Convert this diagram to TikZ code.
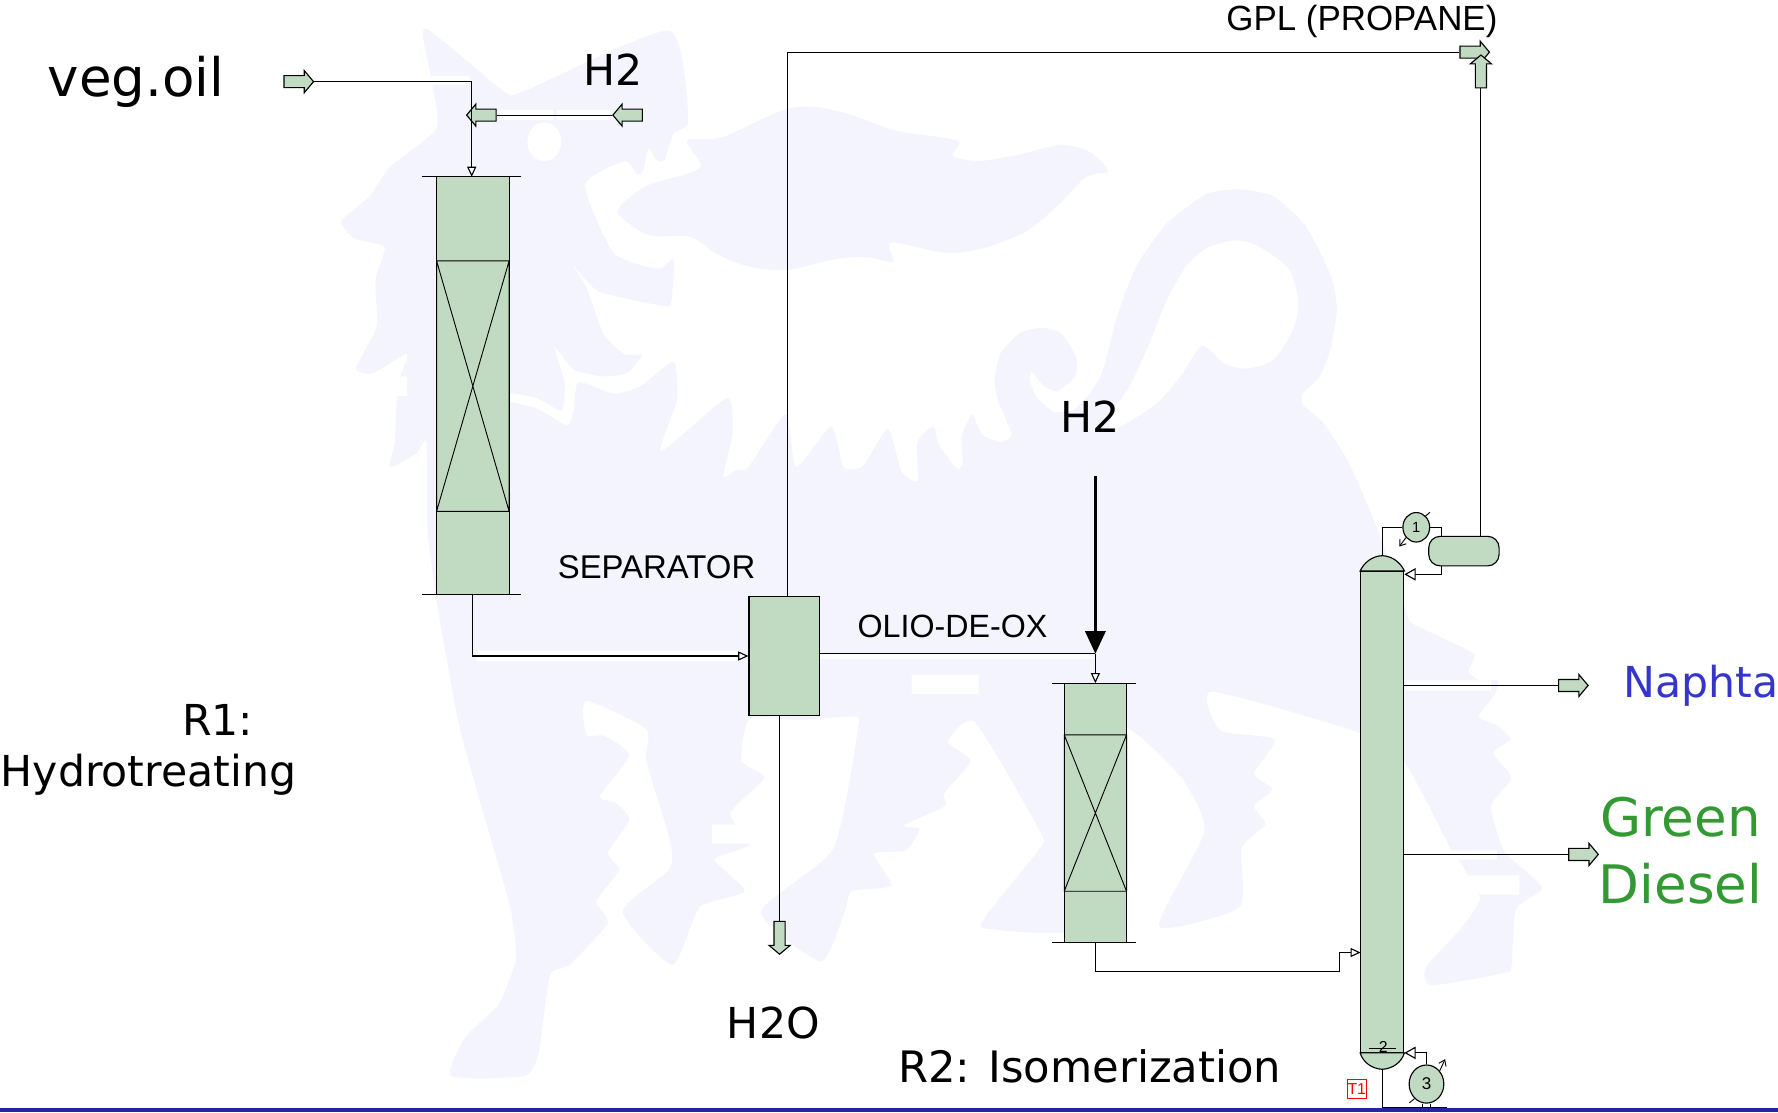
\documentclass[tikz,border=0pt]{standalone}
\usepackage{fontspec}
\usepackage{xcolor}
\usepackage{tikz}
\usetikzlibrary{positioning, arrows.meta, calc, shapes.arrows, shapes.geometric}
\setmainfont{DejaVu Sans}
\newfontfamily\helv{Liberation Sans}
\definecolor{unitgreen}{HTML}{C0DBC1}
\definecolor{lionblue}{HTML}{F4F4FE}
\definecolor{barblue}{HTML}{2424A4}
\definecolor{naphtablue}{HTML}{3535CC}
\definecolor{dieselgreen}{HTML}{339933}
\tikzset{
  unitbox/.style={draw, fill=unitgreen, line width=.5pt, inner sep=0pt},
  pipe/.style={draw, line width=.5pt},
  feed/.style={pipe, -{Triangle[fill=white, length=4.5pt, width=4pt]}},
  reflux/.style={pipe, -{Triangle[fill=white, length=5pt, width=5.5pt]}},
  tag/.style={unitbox, single arrow, inner xsep=0pt, inner ysep=2.4pt, minimum height=13pt,
    single arrow head extend=2.2pt, single arrow tip angle=100, anchor=tail},
  uptag/.style={tag, inner xsep=2.2pt, inner ysep=0pt, minimum height=14.5pt},
  bigtext/.style={font=\fontsize{18.8}{18.8}\selectfont, anchor=base},
  hugetext/.style={font=\fontsize{23.4}{30}\selectfont, anchor=base},
  smalltext/.style={font=\helv\fontsize{14.5}{14.5}\selectfont, anchor=base}
}

\begin{document}
\begin{tikzpicture}[x=0.5pt, y=-0.5pt]
  \useasboundingbox (0,0) rectangle (1568,981);

  % lion in the background
  \fill[lionblue] plot[smooth cycle, tension=.35] coordinates {
    (375,25) (445,81) (463,80) (590,27) (607,106) (594,118) (586,141) (579,141) (572,131) (567,151) (561,153) (551,142)
    (516,163) (541,223) (580,237) (594,229) (592,266) (586,270) (528,257) (504,232) (517,253) (532,294) (550,312) (566,313)
    (553,329) (532,332) (506,326) (489,306) (498,338) (495,362) (473,351) (440,345) (440,352) (473,360) (500,375) (506,362)
    (510,337) (541,347) (564,341) (594,319) (597,353) (583,398) (641,351) (646,382) (638,420) (650,414) (660,412) (693,365)
    (702,412) (733,376) (744,412) (761,411) (783,378) (795,416) (809,424) (809,390) (823,376) (829,394) (844,413) (849,409)
    (848,385) (857,365) (861,373) (867,384) (882,390) (886,389) (892,382) (880,353) (877,335) (882,312) (899,294) (919,289)
    (936,294) (949,315) (948,332) (932,345) (920,340) (910,328) (908,335) (914,350) (929,363) (946,362) (961,347) (973,326)
    (985,279) (1002,235) (1029,197) (1064,171) (1093,167) (1123,173) (1152,200) (1174,244) (1179,273) (1173,309) (1164,332)
    (1149,347) (1149,357) (1167,373) (1190,409) (1217,472) (1239,535) (1246,550) (1299,576) (1295,592) (1305,600) (1321,600)
    (1318,613) (1304,632) (1321,640) (1332,652) (1317,664) (1333,686) (1315,711) (1326,750) (1343,766) (1360,784) (1337,802)
    (1333,852) (1327,858) (1265,869) (1257,864) (1258,852) (1290,817) (1305,793) (1295,772) (1286,758) (1280,750) (1239,673)
    (1198,646) (1069,610) (1076,644) (1124,652) (1106,682) (1122,696) (1106,711) (1116,727) (1095,748) (1093,800) (1022,817)
    (1062,733) (1042,686) (994,643) (980,700) (960,817) (870,819) (870,807) (917,748) (917,733) (860,637) (836,654) (856,671)
    (833,699) (833,711) (797,728) (811,731) (799,750) (771,753) (786,781) (751,786) (745,804) (724,848) (671,804) (735,748)
    (757,640) (752,632) (704,635) (661,634) (654,671) (674,686) (644,717) (661,745) (630,758) (657,786) (617,800) (593,851)
    (549,804) (590,767) (591,742) (570,671) (570,643) (517,618) (517,648) (533,649) (555,666) (529,702) (543,708) (555,723)
    (536,752) (546,767) (526,795) (536,814) (502,851) (485,860) (475,929) (462,949) (398,949) (410,915) (440,885) (455,845)
    (450,800) (430,730) (405,640) (385,530) (377,466) (376,390) (367,400) (344,412) (348,391) (350,350) (353,332) (359,312)
    (329,329) (314,325) (332,288) (331,247) (339,218) (312,210) (301,195) (326,173) (344,147) (385,113) (380,68)};
  \fill[lionblue] plot[smooth cycle, tension=.5] coordinates {
    (606,124) (637,121) (688,98) (716,94) (750,101) (789,115) (844,124) (840,137) (862,142) (896,137) (935,128) (961,134)
    (977,151) (958,156) (932,182) (905,204) (867,219) (834,223) (786,214) (788,231) (767,227) (739,228) (694,238) (660,235)
    (632,224) (609,209) (575,208) (556,198) (545,185) (570,164) (617,148)};
  \fill[white] plot[smooth cycle, tension=.5] coordinates {
    (1060,305) (1079,320) (1099,325) (1123,317) (1140,291) (1145,268) (1137,238) (1111,218) (1090,212) (1064,219) (1046,235)
    (1029,265) (1011,309) (996,341) (982,362) (979,378) (994,373) (1023,353) (1043,329)};
  \fill[white] (480,125) ellipse (15 and 17);
  \fill[white] (350,332) rectangle (359,349) (804,595) rectangle (863,612) (628,727) rectangle (664,744)
    (1295,772) rectangle (1340,789) (1280,750) rectangle (1320,758) (1240,600) rectangle (1315,609)
    (441,97) rectangle (488,106) (491,97) rectangle (538,106) (379,67) rectangle (414,75)
    (420,574) rectangle (652,583) (723,577) rectangle (964,581);
  \fill[barblue] (0,977) rectangle (1568,981);

  % units
  \node[unitbox, minimum width=32pt, minimum height=184pt] (rone) at (417,340) {};
  \draw (rone.north west) ++(-12,0) -- ++(87,0) (rone.south west) ++(-12,0) -- ++(87,0);
  \draw (385,230) rectangle (449,451) (385,230) -- (449,451) (449,230) -- (385,451);
  \node[unitbox, minimum width=31pt, minimum height=52.5pt] (sep) at (691.5,578.5) {};
  \node[unitbox, minimum width=27.5pt, minimum height=114pt] (rtwo) at (966,717) {};
  \draw (rtwo.north west) ++(-10,0) -- ++(74,0) (rtwo.south west) ++(-10,0) -- ++(74,0);
  \draw (938.5,648) rectangle (993.5,786) (938.5,648) -- (993.5,786) (993.5,648) -- (938.5,786);

  % column with its domes
  \node[unitbox, minimum width=19pt, minimum height=212pt] (col) at (1219,716) {};
  \coordinate (coltop) at ($(col.north)+(0,-13.5)$);
  \coordinate (colbot) at ($(col.south)+(0,14.5)$);
  \draw[fill=unitgreen, line width=.5pt] (col.north west) .. controls (1203,496) and (1210,490.5) .. (coltop)
    .. controls (1228,490.5) and (1235,496) .. (col.north east) -- cycle;
  \draw[fill=unitgreen, line width=.5pt] (col.south west) .. controls (1202,937) and (1210,942.5) .. (colbot)
    .. controls (1228,942.5) and (1236,937) .. (col.south east) -- cycle;
  \node[font=\helv\fontsize{7}{7}\selectfont] (tray) at (1220,923) {2};
  \draw (1207.5,924.5) -- (1231,924.5);
  \node[unitbox, ellipse, minimum width=11.8pt, minimum height=13pt, font=\helv\fontsize{6.5}{6.5}\selectfont] (cond) at (1249,465) {1};
  \node[unitbox, rounded corners=5pt, minimum width=31pt, minimum height=13pt] (drum) at (1291,486) {};
  \node[unitbox, ellipse, minimum width=15.3pt, minimum height=16.8pt, font=\helv\fontsize{7.5}{7.5}\selectfont] (reb) at (1258,956) {3};
  \node[draw=red, text=red, line width=.4pt, minimum width=8.3pt, minimum height=8.3pt, inner sep=0pt,
        font=\helv\fontsize{7}{7}\selectfont] (tone) at (1196.5,960.5) {T1};

  % stream tags
  \node[tag] (vegin) at (250,72) {};
  \node[tag, shape border rotate=180] (hin) at (567,101.5) {};
  \node[tag, shape border rotate=180] (hmix) at (438,101.5) {};
  \node[uptag, shape border rotate=270] (water) at (687.5,812) {};
  \node[tag] (gpla) at (1287,46) {};
  \node[uptag, shape border rotate=90] (gplb) at (1306,78) {};
  \node[tag] (napout) at (1374,604.5) {};
  \node[tag] (dieselout) at (1383,753.5) {};

  % streams
  \coordinate (joinveg) at (416,101.5);
  \coordinate (joinhtwo) at (966,576.5);
  \coordinate (htwostart) at (966,420);
  \draw[pipe] (vegin.tip) -| (joinveg);
  \draw[feed] (joinveg) -- (416,156);
  \draw[pipe] (hin.tip) -- (hmix.tail);
  \draw[feed] (rone.south) |- (sep.west);
  \draw[pipe] ($(sep.north)+(3,0)$) |- (gpla.tail);
  \draw[pipe] (687.5,631) -- (water.tail);
  \draw[pipe] (722,576.5) -- (joinhtwo);
  \draw[line width=1pt, -{Triangle[length=10pt, width=9pt]}] (htwostart) -- (joinhtwo);
  \draw[feed] (joinhtwo) -- (rtwo.north);
  \draw[feed] (rtwo.south) |- (1181,857) |- (1200,840);
  \draw[pipe] (coltop) |- (cond.west);
  \draw[pipe] (cond.east) -| ($(drum.north west)+(12,0)$);
  \draw[reflux] ($(drum.south west)+(12,0)$) |- ($(col.north east)+(0,3)$);
  \draw[pipe] ($(drum.north)+(15,0)$) -- (gplb.tail);
  \draw[pipe] (1238,604.5) -- (napout.tail);
  \draw[pipe] (1238,753.5) -- (dieselout.tail);
  \draw[reflux] (reb.north) |- (col.south east);
  \draw[pipe] (colbot) |- (1275.7,977);
  \draw[pipe] ($(reb.south)+(-3.4,0)$) -- (1254.6,977);
  \draw[pipe] ($(reb.south)+(3.4,0)$) -- (1261.4,977);
  \draw[line width=.4pt, -{Straight Barb[length=2.5pt, width=3.5pt]}] (cond.225) -- (1234,482);
  \draw[line width=.4pt] (1256.6,455.6) -- (1261,451.8);
  \draw[line width=.4pt, -{Straight Barb[length=2.5pt, width=3.5pt]}] (reb.45) -- (1274.4,934);
  \draw[line width=.4pt] (1242.9,972.5) -- (1247.3,969);

  % labels
  \node[hugetext] (vegoil) at (120,85) {veg.oil};
  \node[bigtext] (hone) at (541,75) {H2};
  \node[bigtext] (htwo) at (961,381.5) {H2};
  \node[bigtext] (htwoo) at (682,916) {H2O};
  \node[bigtext, font=\fontsize{19.1}{19.1}\selectfont] (rtwolabel) at (961,955) {R2: Isomerization};
  \node[bigtext] (ronelabel) at (192,649) {R1:};
  \node[bigtext] (hydro) at (131,694) {Hydrotreating};
  \node[smalltext, font=\helv\fontsize{15.4}{15.4}\selectfont] (gpl) at (1201,27) {GPL (PROPANE)};
  \node[smalltext] (seplabel) at (579,510) {SEPARATOR};
  \node[smalltext, font=\helv\fontsize{14.2}{14.2}\selectfont] (olio) at (840,562) {OLIO-DE-OX};
  \node[bigtext, text=naphtablue] (naphta) at (1500,615) {Naphta};
  \node[hugetext, text=dieselgreen] (green) at (1482,738) {Green};
  \node[hugetext, text=dieselgreen] (diesel) at (1482,797) {Diesel};
\end{tikzpicture}
\end{document}
